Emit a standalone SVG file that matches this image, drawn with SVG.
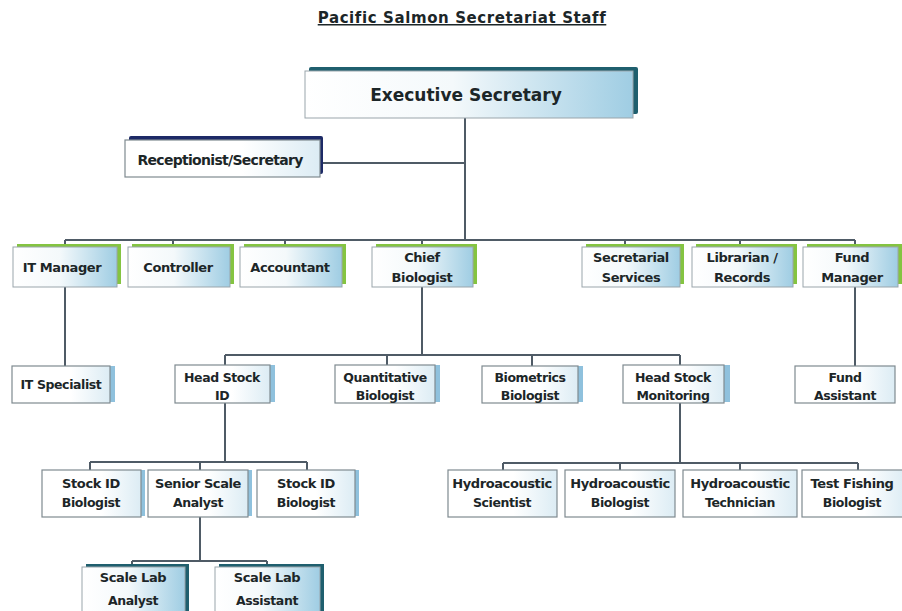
<svg xmlns="http://www.w3.org/2000/svg" width="902" height="611" viewBox="0 0 902 611">
<defs>
<linearGradient id="gb" x1="0" y1="0" x2="1" y2="0">
<stop offset="0" stop-color="#ffffff"/><stop offset="0.45" stop-color="#f4f9fb"/><stop offset="1" stop-color="#9fcde3"/>
</linearGradient>
<linearGradient id="gw" x1="0" y1="0" x2="1" y2="0">
<stop offset="0" stop-color="#ffffff"/><stop offset="0.6" stop-color="#ffffff"/><stop offset="1" stop-color="#dcecf4"/>
</linearGradient>
</defs>
<style>
text{font-family:"DejaVu Sans","Liberation Sans",sans-serif;font-weight:bold;fill:#1c2628;text-anchor:middle;}
.t{font-size:13px;letter-spacing:-0.4px;}
.s{font-size:12.5px;letter-spacing:-0.4px;}
.box{fill:url(#gb);stroke:#9aa5ab;stroke-width:1;}
.wbox{fill:url(#gw);stroke:#7f8a90;stroke-width:1.2;}
.green{fill:#84c441;}
.teal{fill:#1f5f6e;}
.navy{fill:#1d2a66;}
.strip{fill:#8fc1dd;}
#connectors path{fill:none;stroke:#4f5b66;stroke-width:2;}
</style>
<rect width="902" height="611" fill="#ffffff"/>
<text x="462" y="23" style="font-size:15px;text-decoration:underline;letter-spacing:0.6px">Pacific Salmon Secretariat Staff</text>

<g id="connectors">
<path d="M465 118V240M320 163H465"/>
<path d="M65 240H855M65 240V247M173 240V247M285 240V247M422 240V247M625 240V247M740 240V247M855 240V247"/>
<path d="M65 287V366M855 287V366"/>
<path d="M422 287V355M225 355H680M225 355V366M387 355V366M532 355V366M680 355V366"/>
<path d="M225 403V462M90 462H307M90 462V470M200 462V470M307 462V470"/>
<path d="M680 403V463M503 463H858M503 463V470M620 463V470M740 463V470M858 463V470"/>
<path d="M200 517V561M132 561H267M132 561V567M267 561V567"/>
</g>

<g id="exec">
<rect class="teal" x="309" y="67" width="329" height="47" rx="2"/>
<rect class="box" x="305" y="71" width="328" height="47"/>
<text x="466" y="101" style="font-size:17px">Executive Secretary</text>
</g>
<g id="receptionist">
<rect class="navy" x="129" y="136" width="194" height="38" rx="2"/>
<rect class="wbox" x="125" y="140" width="195" height="37"/>
<text x="220" y="165" style="font-size:14px;letter-spacing:-0.7px">Receptionist/Secretary</text>
</g>

<g id="it-manager"><rect class="green" x="17" y="244" width="104" height="40"/><rect class="box" x="13" y="247" width="104" height="40"/><text class="t" x="62" y="272">IT Manager</text></g>
<g id="controller"><rect class="green" x="132" y="244" width="102" height="40"/><rect class="box" x="128" y="247" width="102" height="40"/><text class="t" x="178" y="272">Controller</text></g>
<g id="accountant"><rect class="green" x="244" y="244" width="102" height="40"/><rect class="box" x="240" y="247" width="102" height="40"/><text class="t" x="290" y="272">Accountant</text></g>
<g id="chief-biologist"><rect class="green" x="376" y="244" width="101" height="40"/><rect class="box" x="372" y="247" width="101" height="40"/><text class="t" x="422" y="262">Chief</text><text class="t" x="422" y="282">Biologist</text></g>
<g id="secretarial-services"><rect class="green" x="586" y="244" width="98" height="40"/><rect class="box" x="582" y="247" width="98" height="40"/><text class="t" x="631" y="262">Secretarial</text><text class="t" x="631" y="282">Services</text></g>
<g id="librarian"><rect class="green" x="696" y="244" width="101" height="40"/><rect class="box" x="692" y="247" width="101" height="40"/><text class="t" x="742" y="262">Librarian /</text><text class="t" x="742" y="282">Records</text></g>
<g id="fund-manager"><rect class="green" x="807" y="244" width="95" height="40"/><rect class="box" x="803" y="247" width="95" height="40"/><text class="t" x="852" y="262">Fund</text><text class="t" x="852" y="282">Manager</text></g>

<g id="it-specialist"><rect class="strip" x="108" y="366" width="7" height="36"/><rect class="wbox" x="12" y="366" width="98" height="37"/><text class="s" x="61" y="389">IT Specialist</text></g>
<g id="head-stock-id"><rect class="strip" x="268" y="365" width="7" height="37"/><rect class="wbox" x="175" y="365" width="95" height="38"/><text class="s" x="222" y="382">Head Stock</text><text class="s" x="222" y="400">ID</text></g>
<g id="quantitative-biologist"><rect class="strip" x="433" y="365" width="7" height="37"/><rect class="wbox" x="335" y="365" width="100" height="38"/><text class="s" x="385" y="382">Quantitative</text><text class="s" x="385" y="400">Biologist</text></g>
<g id="biometrics-biologist"><rect class="strip" x="576" y="366" width="7" height="36"/><rect class="wbox" x="482" y="366" width="96" height="37"/><text class="s" x="530" y="382">Biometrics</text><text class="s" x="530" y="400">Biologist</text></g>
<g id="head-stock-monitoring"><rect class="strip" x="722" y="365" width="8" height="37"/><rect class="wbox" x="623" y="365" width="101" height="38"/><text class="s" x="673" y="382">Head Stock</text><text class="s" x="673" y="400">Monitoring</text></g>
<g id="fund-assistant"><rect class="wbox" x="795" y="366" width="100" height="37"/><text class="s" x="845" y="382">Fund</text><text class="s" x="845" y="400">Assistant</text></g>

<g id="stock-id-biologist-1"><rect class="strip" x="139" y="470" width="6" height="46"/><rect class="wbox" x="42" y="470" width="99" height="47"/><text class="t" x="91" y="488">Stock ID</text><text class="s" x="91" y="507">Biologist</text></g>
<g id="senior-scale-analyst"><rect class="strip" x="246" y="470" width="6" height="46"/><rect class="wbox" x="148" y="470" width="100" height="47"/><text class="t" x="198" y="488">Senior Scale</text><text class="s" x="198" y="507">Analyst</text></g>
<g id="stock-id-biologist-2"><rect class="strip" x="353" y="470" width="6" height="46"/><rect class="wbox" x="257" y="470" width="98" height="47"/><text class="t" x="306" y="488">Stock ID</text><text class="s" x="306" y="507">Biologist</text></g>
<g id="hydroacoustic-scientist"><rect class="wbox" x="448" y="470" width="109" height="47"/><text class="t" x="502" y="488">Hydroacoustic</text><text class="s" x="502" y="507">Scientist</text></g>
<g id="hydroacoustic-biologist"><rect class="wbox" x="565" y="470" width="110" height="47"/><text class="t" x="620" y="488">Hydroacoustic</text><text class="s" x="620" y="507">Biologist</text></g>
<g id="hydroacoustic-technician"><rect class="wbox" x="683" y="470" width="114" height="47"/><text class="t" x="740" y="488">Hydroacoustic</text><text class="s" x="740" y="507">Technician</text></g>
<g id="test-fishing-biologist"><rect class="wbox" x="802" y="470" width="104" height="47"/><text class="t" x="852" y="488">Test Fishing</text><text class="s" x="852" y="507">Biologist</text></g>

<g id="scale-lab-analyst"><rect class="teal" x="86" y="564" width="103" height="50"/><rect class="box" x="82" y="567" width="103" height="50"/><text class="t" x="133" y="582">Scale Lab</text><text class="s" x="133" y="605">Analyst</text></g>
<g id="scale-lab-assistant"><rect class="teal" x="219" y="564" width="105" height="50"/><rect class="box" x="215" y="567" width="105" height="50"/><text class="t" x="267" y="582">Scale Lab</text><text class="s" x="267" y="605">Assistant</text></g>
</svg>
